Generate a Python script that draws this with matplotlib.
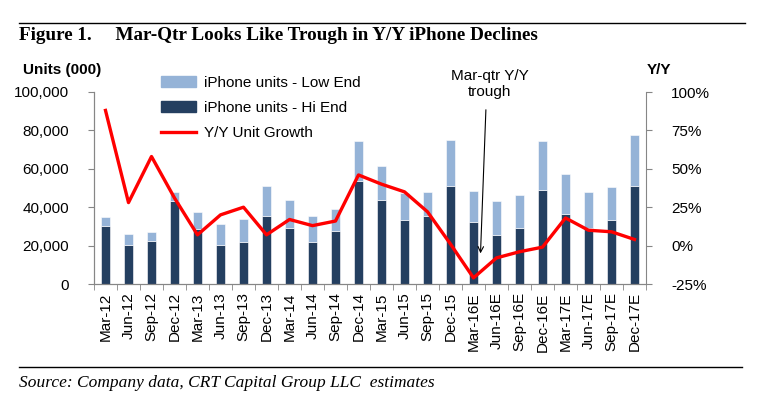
import numpy as np
import matplotlib
matplotlib.use("Agg")
import matplotlib.pyplot as plt
from matplotlib.lines import Line2D

plt.rcParams['font.family'] = ['Liberation Sans', 'DejaVu Sans']

# quarters
quarters = ['Mar-12', 'Jun-12', 'Sep-12', 'Dec-12', 'Mar-13', 'Jun-13', 'Sep-13', 'Dec-13',
            'Mar-14', 'Jun-14', 'Sep-14', 'Dec-14', 'Mar-15', 'Jun-15', 'Sep-15', 'Dec-15',
            'Mar-16E', 'Jun-16E', 'Sep-16E', 'Dec-16E', 'Mar-17E', 'Jun-17E', 'Sep-17E', 'Dec-17E']

# units (000)
hi_end = [30100, 20400, 22300, 43100, 28800, 20400, 21800, 35400, 29400, 21800, 27800, 53500,
          43600, 33100, 35200, 51200, 32500, 25700, 29400, 48900, 36200, 29400, 33100, 51200]
low_end = [5000, 5600, 4600, 4700, 8600, 10800, 12000, 15600, 14300, 13400, 11500, 21000,
           17600, 14400, 12800, 23600, 15900, 17400, 16700, 25700, 21100, 18300, 17400, 26500]

# Y/Y unit growth, %
yy_growth = [88, 28, 58, 31, 7, 20, 25, 7, 17, 13, 16, 46,
             40, 35, 22, 1, -21, -8, -4, -1, 18, 10, 9, 4]

light_blue = '#95b3d7'
navy = '#243f60'
grey = '#868686'

W, H = 758, 399
fig = plt.figure(figsize=(W / 100, H / 100), dpi=100)
ax = fig.add_axes([94 / W, 1 - 284 / H, (646 - 94) / W, (284 - 92) / H])
ax2 = ax.twinx()

x = np.arange(len(quarters))
ax.bar(x, hi_end, width=0.42, color=navy, edgecolor='white', linewidth=0.4,
       label='iPhone units - Hi End')
ax.bar(x, low_end, width=0.42, bottom=hi_end, color=light_blue, edgecolor='white',
       linewidth=0.4, label='iPhone units - Low End')
ax2.plot(x, yy_growth, color='#ff0000', lw=2.4, label='Y/Y Unit Growth')

ax.set_xlim(-0.5, len(quarters) - 0.5)
ax.set_ylim(0, 100000)
ax2.set_ylim(-25, 100)

ax.set_yticks(np.arange(0, 100001, 20000))
ax.set_yticklabels(['{:,}'.format(v) for v in range(0, 100001, 20000)])
ax2.set_yticks(np.arange(-25, 101, 25))
ax2.set_yticklabels(['{}%'.format(v) for v in range(-25, 101, 25)])

ax.set_xticks(x)
ax.set_xticklabels(quarters, rotation=90)
ax.set_xticks(np.arange(-0.5, len(quarters), 1), minor=True)
ax.tick_params(axis='x', which='major', length=0, pad=6, labelsize=11)
ax.tick_params(axis='x', which='minor', length=4, color=grey, direction='out')
ax.tick_params(axis='y', length=4, color=grey, labelsize=11, pad=14)
ax2.tick_params(axis='y', length=4, color=grey, labelsize=11, pad=14)

for a in (ax, ax2):
    a.spines['top'].set_visible(False)
    for s in ('left', 'right', 'bottom'):
        a.spines[s].set_color(grey)
ax.spines['right'].set_visible(False)

# legend
handles = [plt.Rectangle((0, 0), 1, 1, color=light_blue),
           plt.Rectangle((0, 0), 1, 1, color=navy),
           Line2D([0], [0], color='#ff0000', lw=2.4)]
labels = ['iPhone units - Low End', 'iPhone units - Hi End', 'Y/Y Unit Growth']
fig.legend(handles, labels, loc='upper left', bbox_to_anchor=(161 / W, 1 - 76 / H),
           frameon=False, fontsize=11, handlelength=2.3, handletextpad=0.5,
           labelspacing=0.72, borderpad=0, borderaxespad=0)

# annotation
fig.text(490 / W, 1 - 84 / H, 'Mar-qtr Y/Y\ntrough', ha='center', va='center',
         fontsize=11, linespacing=1.25)
ax.annotate('', xy=(16.3, 14500), xytext=(486 / W, 1 - 107 / H),
            textcoords='figure fraction',
            arrowprops=dict(arrowstyle='->', lw=0.8, color='black'))

# axis titles
fig.text(23 / W, 1 - 70 / H, 'Units (000)', fontsize=11, fontweight='bold', va='center')
fig.text(647 / W, 1 - 70 / H, 'Y/Y', fontsize=11, fontweight='bold', va='center')

# title and source
serif = ['Liberation Serif', 'DejaVu Serif']
fig.add_artist(Line2D([19 / W, 745 / W], [1 - 23 / H] * 2, color='black', lw=1))
fig.text(19 / W, 1 - 36 / H, 'Figure 1.     Mar-Qtr Looks Like Trough in Y/Y iPhone Declines',
         family=serif, fontsize=13.8, fontweight='bold', va='center')
fig.add_artist(Line2D([19 / W, 742 / W], [1 - 367 / H] * 2, color='black', lw=1))
fig.text(19 / W, 1 - 383 / H, 'Source: Company data, CRT Capital Group LLC  estimates',
         family=serif, fontsize=12.5, style='italic', va='center')

fig.savefig('out.png', dpi=100)
